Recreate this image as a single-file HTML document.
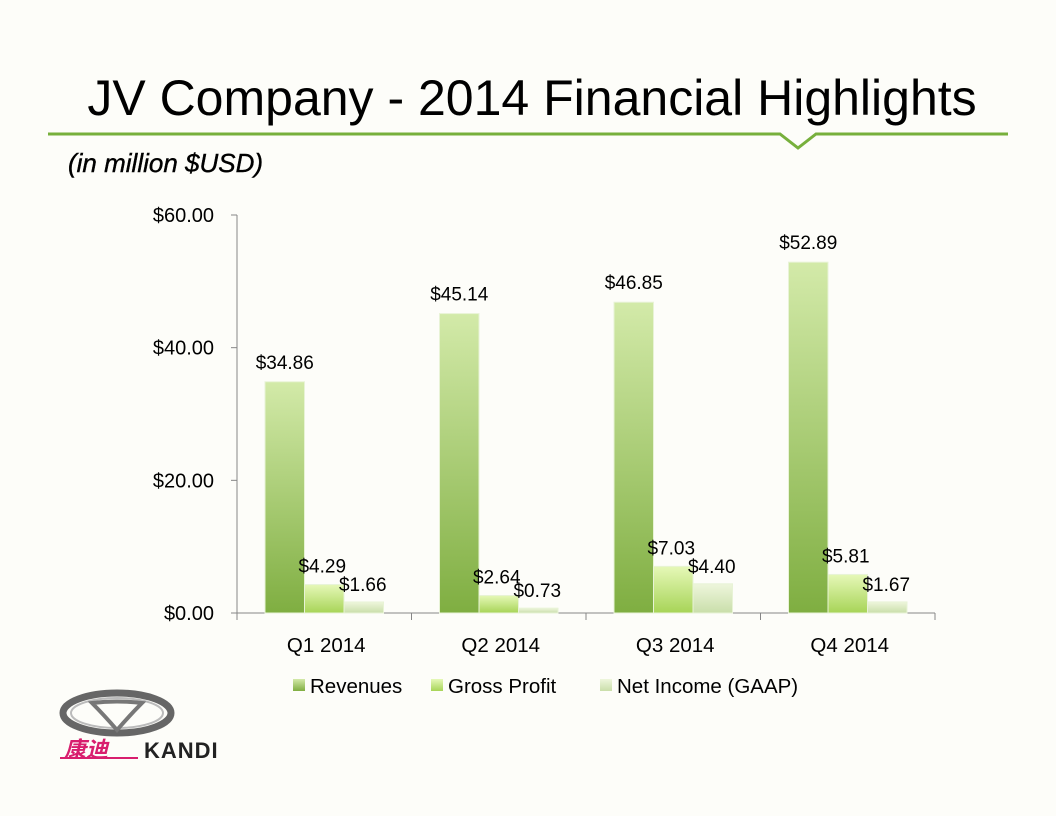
<!DOCTYPE html>
<html><head><meta charset="utf-8"><style>
body{margin:0;background:#fdfdf9;}
#wrap{position:relative;width:1056px;height:816px;overflow:hidden;background:#fdfdf9;font-family:"Liberation Sans","Noto Sans CJK SC",sans-serif;}
</style></head><body>
<div id="wrap">
<svg width="1056" height="816" id="svg" style="position:absolute;left:0;top:0">
<defs>
<linearGradient id="gRev" x1="0" y1="0" x2="0" y2="1"><stop offset="0" stop-color="#d3eaa9"/><stop offset="1" stop-color="#7fae41"/></linearGradient>
<linearGradient id="gGp" x1="0" y1="0" x2="0" y2="1"><stop offset="0" stop-color="#e6f8b8"/><stop offset="1" stop-color="#a7d457"/></linearGradient>
<linearGradient id="gNi" x1="0" y1="0" x2="0" y2="1"><stop offset="0" stop-color="#eef6dc"/><stop offset="1" stop-color="#c9deaa"/></linearGradient>
</defs>
<text x="532" y="115" text-anchor="middle" font-size="50" fill="#000" font-family="Liberation Sans, sans-serif">JV Company - 2014 Financial Highlights</text>
<polyline points="48,134 780,134 798,148 816,134 1008,134" fill="none" stroke="#77b03c" stroke-width="3"/>
<text x="68" y="172" font-size="26" font-style="italic" fill="#000" font-family="Liberation Sans, sans-serif" stroke="#000" stroke-width="0.4">(in million $USD)</text>
<g id="chart"></g>
<g>
<ellipse cx="117" cy="713" rx="54" ry="20" fill="none" stroke="#666" stroke-width="7"/>
<ellipse cx="117" cy="713" rx="46" ry="15" fill="none" stroke="#bbb" stroke-width="2"/>
<path d="M92,703 Q117,700 142,703 Q130,715 117,730 Q104,715 92,703 Z" fill="none" stroke="#777" stroke-width="4"/>
<text x="64" y="757" font-size="22" font-style="italic" font-weight="bold" fill="#d81e6e" font-family="Noto Sans CJK SC, sans-serif">康迪</text>
<line x1="60" y1="758" x2="138" y2="758" stroke="#d81e6e" stroke-width="2"/>
<text x="144" y="758" font-size="22" font-weight="bold" fill="#222" font-family="Liberation Sans, sans-serif" letter-spacing="1">KANDI</text>
</g>
</svg>
</div>
<script>
const categories=["Q1 2014","Q2 2014","Q3 2014","Q4 2014"];
const seriesNames=["Revenues","Gross Profit","Net Income (GAAP)"];
const revenues=[34.86,45.14,46.85,52.89];
const grossProfit=[4.29,2.64,7.03,5.81];
const netIncome=[1.66,0.73,4.40,1.67];
const yTicks=[0,20,40,60];
const yTickLabels=["$0.00","$20.00","$40.00","$60.00"];

const NS="http://www.w3.org/2000/svg";
const g=document.getElementById('chart');
const X0=237,X1=935,Y0=613,Y1=215,YMAX=60;
const y=v=>Y0-(v/YMAX)*(Y0-Y1);
const catW=(X1-X0)/categories.length;
const barW=39.5,pad=(catW-3*barW)/2;
const x=(ci,si)=>X0+ci*catW+pad+si*barW;
function el(t,a){const e=document.createElementNS(NS,t);for(const k in a)e.setAttribute(k,a[k]);g.appendChild(e);return e;}
const ax=el('line',{x1:X0,y1:Y1,x2:X0,y2:Y0,stroke:'#868686'});


const xa=el('line',{x1:X0,y1:Y0,x2:X1,y2:Y0,stroke:'#868686'});


yTicks.forEach((v,i)=>{
 el('line',{x1:X0-6,y1:y(v),x2:X0,y2:y(v),stroke:'#868686'});
 const t=el('text',{x:X0-23,y:y(v)+7,'text-anchor':'end','font-size':20,fill:'#000'});
 t.textContent=yTickLabels[i];
 
 
});
for(let i=0;i<=categories.length;i++){el('line',{x1:X0+i*catW,y1:Y0,x2:X0+i*catW,y2:Y0+7,stroke:'#868686'});}
categories.forEach((c,i)=>{
 const t=el('text',{x:X0+(i+0.5)*catW+2,y:Y0+39,'text-anchor':'middle','font-size':20.5,fill:'#000'});
 t.textContent=c;
 
 
});
const series=[revenues,grossProfit,netIncome];
const fills=['url(#gRev)','url(#gGp)','url(#gNi)'];
const names=['bar-revenue','bar-gross-profit','bar-net-income'];
series.forEach((s,si)=>{
 s.forEach((v,ci)=>{
  const r=el('rect',{x:x(ci,si),y:y(v),width:barW,height:Y0-y(v),fill:fills[si],stroke:'#e8f3d6','stroke-width':1});
  
  
  const off=si==0?[0,-13]:si==1?[-2,-12]:[-1,-11];
  const t=el('text',{x:x(ci,si)+barW/2+off[0],y:y(v)+off[1],'text-anchor':'middle','font-size':19,fill:'#000'});
  t.textContent='$'+v.toFixed(2);
  
  
 });
});
const legX=[293,431,600];
seriesNames.forEach((n,i)=>{
 const r=el('rect',{x:legX[i],y:679,width:12,height:12,fill:fills[i]});
 
 
 const t=el('text',{x:legX[i]+17,y:693,'font-size':20.5,fill:'#000'});
 t.textContent=n;
 
 
});
</script>
</body></html>
